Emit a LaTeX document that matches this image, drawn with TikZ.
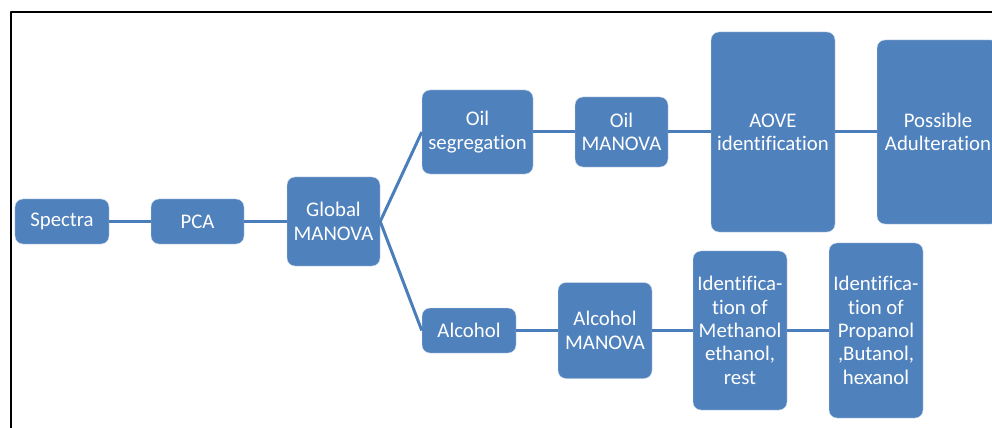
\documentclass[tikz,border=0pt]{standalone}
\usepackage{fontspec}
\setmainfont{Carlito}[Ligatures=NoCommon]
\definecolor{boxblue}{HTML}{4F81BD}
\definecolor{lineblue}{HTML}{4A7EBB}
\tikzset{
	stage/.style={fill=boxblue, draw=white!70!boxblue, line width=0.3pt, rounded corners=2mm, text=white, align=center, inner sep=0pt, font=\fontsize{14.8}{16.6}\selectfont},
	link/.style={draw=lineblue, line width=0.75mm}
}
\begin{document}
\begin{tikzpicture}[x=0.25mm, y=-0.25mm, line join=round, line cap=butt]
			\clip (0,0) rectangle (992,428);
			\draw[line width=0.5mm] (11,428) -- (11,12) -- (992,12);
			\path (62,221.5) node[stage, minimum width=23.5mm, minimum height=11.25mm] (spectra) {Spectra}
			(197.5,221.5) node[stage, minimum width=23.25mm, minimum height=11.25mm] (pca) {PCA}
			(333.5,221.5) node[stage, minimum width=23.25mm, minimum height=22.25mm] (global) {Global\\MANOVA}
			(477.5,132) node[stage, minimum width=27.75mm, minimum height=21mm] (oilseg) {Oil\\segregation}
			(621.5,132) node[stage, minimum width=23.25mm, minimum height=17.5mm] (oilmanova) {Oil\\MANOVA}
			(773,132) node[stage, minimum width=31mm, minimum height=50mm] (aove) {AOVE\\identification}
			(938,132) node[stage, minimum width=30.5mm, minimum height=46mm] (adult) {Possible\\Adulteration}
			(469,330.5) node[stage, minimum width=23.5mm, minimum height=11.25mm] (alcohol) {Alcohol}
			(605,330.5) node[stage, minimum width=23.5mm, minimum height=24mm] (alcmanova) {Alcohol\\MANOVA}
			(740,330.5) node[stage, minimum width=23.5mm, minimum height=39.75mm] (methanol) {Identifica-\\tion of\\Methanol\\ethanol,\\rest}
			(876,330.5) node[stage, minimum width=23.5mm, minimum height=43.75mm] (propanol) {Identifica-\\tion of\\Propanol\\,Butanol,\\hexanol};
			\draw[link] (spectra) -- (pca);
			\draw[link] (pca) -- (global);
			\draw[link] (oilseg.west) -- (global.east) -- (alcohol.west);
			\draw[link] (oilseg) -- (oilmanova);
			\draw[link] (oilmanova) -- (aove);
			\draw[link] (aove) -- (adult);
			\draw[link] (alcohol) -- (alcmanova);
			\draw[link] (alcmanova) -- (methanol);
			\draw[link] (methanol) -- (propanol);
		\end{tikzpicture}
\end{document}
